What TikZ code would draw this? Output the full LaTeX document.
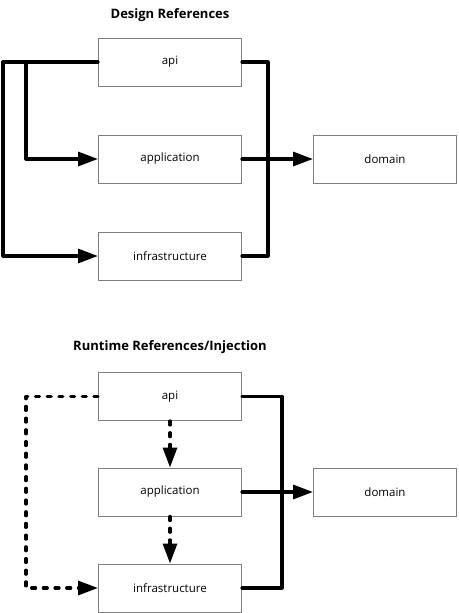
\documentclass[tikz,border=0pt]{standalone}
\usepackage{fontspec}
\setmainfont{Open Sans}
\usetikzlibrary{arrows.meta,calc}
\definecolor{boxline}{HTML}{808080}
\begin{document}
\begin{tikzpicture}[x=1pt,y=-1pt,
  layer/.style={draw=boxline,line width=1pt,minimum width=143pt,minimum height=48pt,
    inner sep=0pt,font=\fontsize{11.5}{13}\selectfont},
  title/.style={font=\bfseries\fontsize{13}{15}\selectfont},
  dep/.style={line width=3.2pt,line join=round,line cap=round},
  inj/.style={dep,dash pattern=on 4pt off 7.7pt},
  tip/.style={-{Triangle[length=20pt,width=14pt]}}]
\useasboundingbox (0,0) rectangle (458,613);

% --- design-time references ---
\node[title] (t1) at (170,15) {Design References};
\node[layer] (api1) at (170,62) {api};
\node[layer] (app1) at (170,159) {application};
\node[layer] (inf1) at (170,256) {infrastructure};
\node[layer] (dom1) at (385,159) {domain};

\coordinate (l1) at (3,62);
\coordinate (b1) at (26,62);
\coordinate (r1) at (268,62);

\draw[dep] (api1.west) -- (l1);
\draw[dep,tip] (l1) |- (inf1.west);
\draw[dep,tip] (b1) |- (app1.west);
\draw[dep] (api1.east) -- (r1) |- (inf1.east);
\draw[dep,tip] (app1.east) -- (dom1.west);

% --- runtime references / injection ---
\node[title] (t2) at (170,347) {Runtime References/Injection};
\node[layer] (api2) at (170,396.5) {api};
\node[layer] (app2) at (170,492) {application};
\node[layer] (inf2) at (170,588) {infrastructure};
\node[layer] (dom2) at (385,492) {domain};

\coordinate (l2) at (26,396.5);
\coordinate (r2) at (282,396.5);

\draw[inj,tip] (api2.west) -- (l2) |- (inf2.west);
\draw[inj,tip] (api2.south) -- (app2.north);
\draw[inj,tip] (app2.south) -- (inf2.north);
\draw[dep] (api2.east) -- (r2) |- (inf2.east);
\draw[dep,tip] (app2.east) -- (dom2.west);
\end{tikzpicture}
\end{document}
